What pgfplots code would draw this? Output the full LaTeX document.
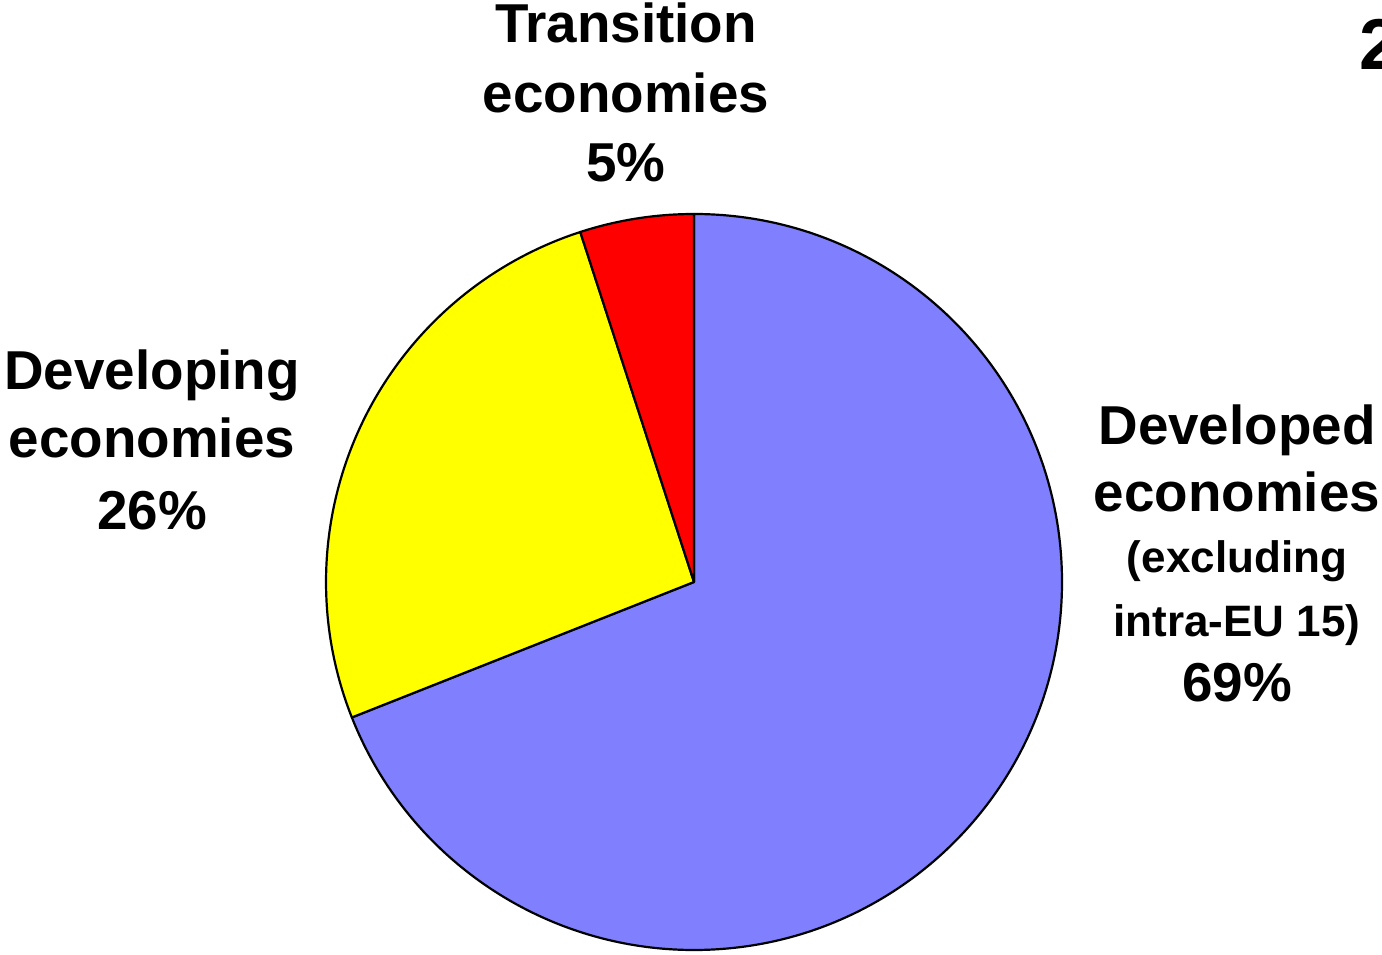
\documentclass[border=0pt]{standalone}
\usepackage{pgfplots}
\pgfplotsset{compat=1.18}
\usepackage{fontspec}
\setmainfont{Liberation Sans}

\definecolor{devblue}{RGB}{128,128,255}
\definecolor{devyellow}{RGB}{255,255,0}
\definecolor{devred}{RGB}{255,0,0}

% pie radius (368 px at 0.5pt per px)
\def\R{184pt}

\tikzset{
    lbl/.style={inner sep=0pt, anchor=base, font=\bfseries\fontsize{27.4}{32}\selectfont},
    lblsmall/.style={inner sep=0pt, anchor=base, font=\bfseries\fontsize{22}{26}\selectfont},
}

\begin{document}
\begin{tikzpicture}
    \begin{axis}[
            scale only axis,
            width=691pt,
            height=477pt,
            xmin=0, xmax=1382,
            ymin=0, ymax=954,
            hide axis,
            clip=false,
        ]
        % shares: developed 69, developing 26, transition 5 (clockwise from 12 o'clock)
        \filldraw[fill=devblue, line width=1.1pt, line join=round]
            (axis cs:694,372) -- ++(90:\R) arc[start angle=90, delta angle=-69*3.6, radius=\R] -- cycle;
        \filldraw[fill=devyellow, line width=1.1pt, line join=round]
            (axis cs:694,372) -- ++(90-69*3.6:\R) arc[start angle=90-69*3.6, delta angle=-26*3.6, radius=\R] -- cycle;
        \filldraw[fill=devred, line width=1.1pt, line join=round]
            (axis cs:694,372) -- ++(90-95*3.6:\R) arc[start angle=90-95*3.6, delta angle=-5*3.6, radius=\R] -- cycle;

        \node[lbl] at (axis cs:626,911) {Transition};
        \node[lbl] at (axis cs:626,841) {economies};
        \node[lbl] at (axis cs:626,772) {5\%};

        \node[lbl] at (axis cs:152,564) {Developing};
        \node[lbl] at (axis cs:152,496) {economies};
        \node[lbl] at (axis cs:152,424) {26\%};

        \node[lbl] at (axis cs:1237,509) {Developed};
        \node[lbl] at (axis cs:1237,442) {economies};
        \node[lblsmall] at (axis cs:1237,381) {(excluding};
        \node[lblsmall] at (axis cs:1237,317) {intra-EU 15)};
        \node[lbl] at (axis cs:1237,252) {69\%};

        \node[inner sep=0pt, anchor=base west, font=\bfseries\fontsize{36}{40}\selectfont] at (axis cs:1359,884) {2};
    \end{axis}
    \pgfresetboundingbox
    \path[use as bounding box] (0,0) rectangle (691pt,477pt);
\end{tikzpicture}
\end{document}
